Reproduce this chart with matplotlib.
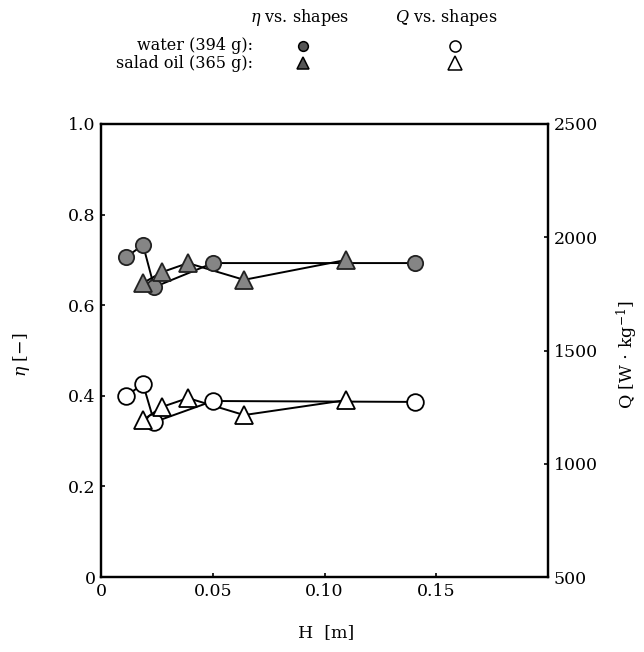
import matplotlib
matplotlib.use("Agg")
import matplotlib.pyplot as plt
from matplotlib.lines import Line2D

plt.rcParams['font.family'] = ['DejaVu Serif']
plt.rcParams['mathtext.fontset'] = 'dejavuserif'

# Data
H_water = [0.0112, 0.0188, 0.0238, 0.0501, 0.1405]
eta_water = [0.706, 0.733, 0.640, 0.693, 0.693]
Q_water = [1299, 1352, 1184, 1277, 1273]

H_oil = [0.0188, 0.0273, 0.0389, 0.0640, 0.1098]
eta_oil = [0.649, 0.673, 0.693, 0.656, 0.700]
Q_oil = [1193, 1251, 1290, 1215, 1281]

x_ticks = [0, 0.05, 0.10, 0.15]
x_ticklabels = ["0", "0.05", "0.10", "0.15"]
eta_ticks = [0, 0.2, 0.4, 0.6, 0.8, 1.0]
eta_ticklabels = ["0", "0.2", "0.4", "0.6", "0.8", "1.0"]
Q_ticks = [500, 1000, 1500, 2000, 2500]

W, Hh = 644, 652
fig = plt.figure(figsize=(W / 100, Hh / 100), dpi=100)
ax = fig.add_axes([101 / W, 1 - 577 / Hh, (548 - 101) / W, (577 - 124) / Hh])
ax2 = ax.twinx()

gray = '#858585'
lw = 1.4
ms_c = 11
ms_t = 13.5

# lines
ax.plot(H_water, eta_water, '-', color='black', lw=lw, zorder=1)
ax.plot(H_oil, eta_oil, '-', color='black', lw=lw, zorder=1)
ax2.plot(H_water, Q_water, '-', color='black', lw=lw, zorder=1)
ax2.plot(H_oil, Q_oil, '-', color='black', lw=lw, zorder=1)

# markers
ax.plot(H_water, eta_water, 'o', ms=ms_c, mfc=gray, mec='#222222', mew=1.3, ls='none', zorder=3)
ax.plot(H_oil, eta_oil, '^', ms=ms_t, mfc=gray, mec='#222222', mew=1.3, ls='none', zorder=3)
ax2.plot(H_water, Q_water, 'o', ms=ms_c + 1, mfc='white', mec='black', mew=1.3, ls='none', zorder=3)
ax2.plot(H_oil, Q_oil, '^', ms=ms_t, mfc='white', mec='black', mew=1.3, ls='none', zorder=3)

ax.set_xlim(0, 0.2)
ax.set_ylim(0, 1.0)
ax2.set_ylim(500, 2500)

ax.set_xticks(x_ticks)
ax.set_xticklabels(x_ticklabels)
ax.set_yticks(eta_ticks)
ax.set_yticklabels(eta_ticklabels)
ax2.set_yticks(Q_ticks)
ax2.set_yticklabels([str(v) for v in Q_ticks])

for a in (ax, ax2):
    for s in a.spines.values():
        s.set_linewidth(1.6)
    a.tick_params(direction='in', length=3, width=1.2, labelsize=12.5, pad=4)
ax.tick_params(top=False, right=False)
ax2.tick_params(left=False, top=False, bottom=False)

fig.text(22 / W, 1 - 355 / Hh, r"$\eta$ [$-$]", rotation=90, ha='center', va='center', fontsize=12.5)
fig.text(627 / W, 1 - 355 / Hh, r"Q [W $\cdot$ kg$^{-1}$]", rotation=90, ha='center', va='center', fontsize=12.5)
fig.text(326 / W, 1 - 633 / Hh, "H  [m]", ha='center', va='center', fontsize=12.5)

# legend on top
fs = 11.5
fig.text(300 / W, 1 - 17 / Hh, r"$\eta$ vs. shapes", ha='center', va='center', fontsize=fs)
fig.text(446 / W, 1 - 17 / Hh, r"$Q$ vs. shapes", ha='center', va='center', fontsize=fs)
fig.text(253 / W, 1 - 46 / Hh, "water (394 g):", ha='right', va='center', fontsize=fs)
fig.text(253 / W, 1 - 64 / Hh, "salad oil (365 g):", ha='right', va='center', fontsize=fs)

def fmark(px, py, marker, fc, ms):
    fig.add_artist(Line2D([px / W], [1 - py / Hh], marker=marker, ms=ms, mfc=fc,
                          mec='black', mew=1.1, ls='none', transform=fig.transFigure))

fmark(303, 46, 'o', '#555555', 7)
fmark(303, 63, '^', '#555555', 9)
fmark(455, 46, 'o', 'white', 8)
fmark(455, 63, '^', 'white', 10)

fig.savefig("out.png", dpi=100)
